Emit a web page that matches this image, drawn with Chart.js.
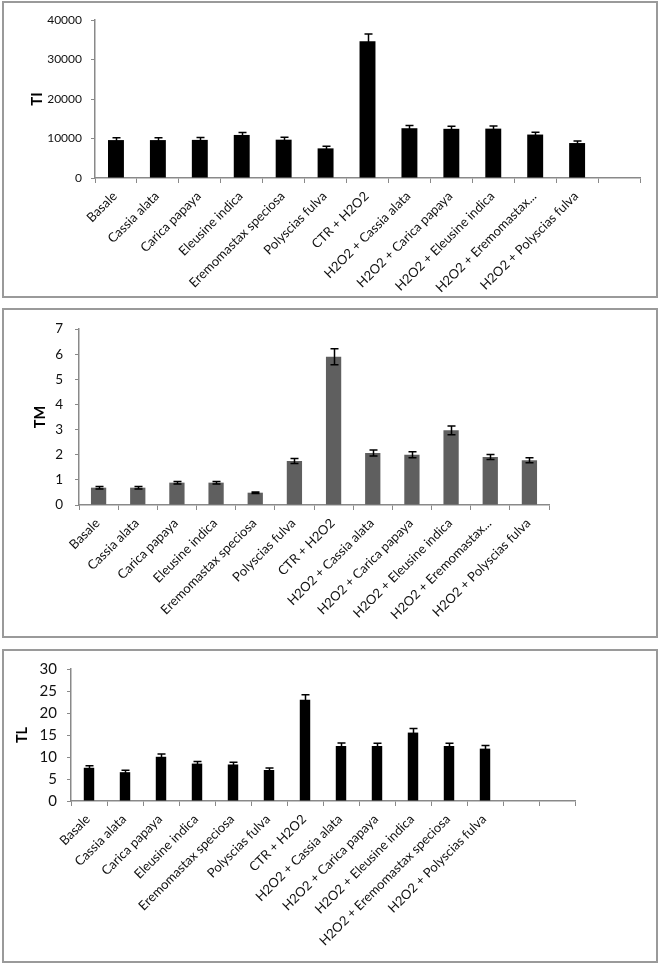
<!DOCTYPE html>
<html>
<head>
<meta charset="utf-8">
<script src="https://cdn.jsdelivr.net/npm/chart.js@4.4.1/dist/chart.umd.min.js"></script>
<style>
  html, body { margin: 0; padding: 0; background: #fff; }
  body { width: 659px; height: 965px; position: relative; overflow: hidden; }
  canvas { position: absolute; }
  .frame { position: absolute; box-sizing: border-box; border: 2px solid #9a9a9a; pointer-events: none; }
</style>
</head>
<body>
<div class="frame" style="left:2px;top:1px;width:656px;height:297px"></div>
<div class="frame" style="left:2px;top:308px;width:656px;height:330px"></div>
<div class="frame" style="left:2px;top:649px;width:656px;height:314px"></div>
<canvas id="tiChart" width="655" height="296" style="left:3px;top:2px"></canvas>
<canvas id="tmChart" width="655" height="328" style="left:3px;top:309px"></canvas>
<canvas id="tlChart" width="655" height="312" style="left:3px;top:650px"></canvas>
<script>
const categories = [
  'Basale', 'Cassia alata', 'Carica papaya', 'Eleusine indica', 'Eremomastax speciosa',
  'Polyscias fulva', 'CTR + H2O2', 'H2O2 + Cassia alata', 'H2O2 + Carica papaya',
  'H2O2 + Eleusine indica', 'H2O2 + Eremomastax speciosa', 'H2O2 + Polyscias fulva'
];
// the first two panels cut the long label short
const shortLabels = categories.map(c => c === 'H2O2 + Eremomastax speciosa' ? 'H2O2 + Eremomastax...' : c);

const tiValues = [9600, 9600, 9650, 10900, 9700, 7500, 34600, 12600, 12450, 12500, 11000, 8850];
const tiErrors = [600, 600, 600, 600, 600, 540, 1850, 680, 680, 680, 600, 520];
const tiTicks = [0, 10000, 20000, 30000, 40000];

const tmValues = [0.69, 0.69, 0.89, 0.89, 0.49, 1.75, 5.9, 2.07, 2.0, 2.97, 1.91, 1.78];
const tmErrors = [0.05, 0.05, 0.05, 0.05, 0.03, 0.1, 0.32, 0.12, 0.12, 0.17, 0.1, 0.1];
const tmTicks = [0, 1, 2, 3, 4, 5, 6, 7];

const tlValues = [7.55, 6.55, 10.05, 8.5, 8.3, 7.05, 23.0, 12.5, 12.5, 15.55, 12.5, 11.9];
const tlErrors = [0.45, 0.45, 0.65, 0.5, 0.5, 0.45, 1.15, 0.7, 0.65, 0.95, 0.65, 0.7];
const tlTicks = [0, 5, 10, 15, 20, 25, 30];

const axisGray = '#898989';

const errorBars = {
  id: 'errorBars',
  afterDatasetsDraw(chart, args, opts) {
    const ctx = chart.ctx;
    const y = chart.scales.y;
    const vals = chart.data.datasets[0].data;
    ctx.save();
    ctx.strokeStyle = opts.color || '#000';
    ctx.lineWidth = 1.5;
    chart.getDatasetMeta(0).data.forEach((bar, i) => {
      const v = vals[i], e = opts.errors[i];
      if (v == null || e == null) return;
      const x = Math.round(bar.x) + 0.5;
      const top = y.getPixelForValue(v + e);
      const bot = y.getPixelForValue(v - e);
      ctx.beginPath();
      ctx.moveTo(x, top); ctx.lineTo(x, bot);
      ctx.moveTo(x - opts.cap, top); ctx.lineTo(x + opts.cap, top);
      ctx.moveTo(x - opts.cap, bot); ctx.lineTo(x + opts.cap, bot);
      ctx.stroke();
    });
    ctx.restore();
  }
};

// category names at 45 degrees, right end just under each tick
const slantLabels = {
  id: 'slantLabels',
  afterDraw(chart, args, opts) {
    const xs = chart.scales.x;
    const ctx = chart.ctx;
    ctx.save();
    ctx.font = opts.size + 'px Lato';
    ctx.fillStyle = '#111';
    ctx.textAlign = 'right';
    ctx.textBaseline = 'middle';
    chart.data.labels.forEach((lab, i) => {
      if (!lab) return;
      ctx.save();
      ctx.translate(xs.getPixelForTick(i) + opts.dx, xs.top + opts.dy);
      ctx.rotate(-Math.PI / 4);
      ctx.fillText(lab, 0, 0);
      ctx.restore();
    });
    ctx.restore();
  }
};

function makeChart(id, cfg) {
  const n = cfg.slots;
  const labels = cfg.labels.concat(Array(n - cfg.labels.length).fill(''));
  const data = cfg.values.concat(Array(n - cfg.values.length).fill(null));
  return new Chart(document.getElementById(id).getContext('2d'), {
    type: 'bar',
    data: {
      labels: labels,
      datasets: [{
        data: data,
        backgroundColor: cfg.barColor,
        borderWidth: 0,
        barPercentage: cfg.barPct,
        categoryPercentage: 1
      }]
    },
    options: {
      responsive: false,
      maintainAspectRatio: false,
      animation: false,
      layout: { padding: { top: cfg.padTop, right: cfg.padRight, left: 0, bottom: 0 } },
      plugins: {
        legend: { display: false },
        tooltip: { enabled: false },
        errorBars: { errors: cfg.errors, color: '#000', cap: 4 },
        slantLabels: { size: 13, dx: -1, dy: 16 }
      },
      scales: {
        x: {
          offset: true,
          grid: { display: true, offset: true, drawOnChartArea: false, drawTicks: true, tickLength: 5, color: axisGray },
          border: { color: axisGray, width: 1.5 },
          ticks: { display: false },
          afterFit: s => { s.height = cfg.xHeight; }
        },
        y: {
          min: cfg.ticks[0],
          max: cfg.ticks[cfg.ticks.length - 1],
          grid: { drawOnChartArea: false, drawTicks: true, tickLength: 4, color: axisGray },
          border: { color: axisGray, width: 1.5 },
          ticks: {
            stepSize: cfg.ticks[1] - cfg.ticks[0], padding: cfg.tickPad,
            color: '#111', font: { family: 'Lato', size: cfg.tickSize },
            callback: v => String(v)
          },
          title: {
            display: true, text: cfg.title, color: '#000',
            font: { family: 'Lato', size: cfg.titleSize, weight: 'bold' },
            padding: { top: cfg.titlePad, bottom: 0 }
          },
          afterFit: s => { s.width = cfg.yWidth; }
        }
      }
    },
    plugins: [errorBars, slantLabels]
  });
}

makeChart('tiChart', {
  labels: shortLabels, values: tiValues, errors: tiErrors, ticks: tiTicks, slots: 13,
  barColor: '#000', barPct: 0.38, title: 'TI', titleSize: 15, titlePad: 25,
  tickSize: 12, tickPad: 9, yWidth: 92, xHeight: 120, padTop: 18, padRight: 18
});

makeChart('tmChart', {
  labels: shortLabels, values: tmValues, errors: tmErrors, ticks: tmTicks, slots: 12,
  barColor: '#5f5f5f', barPct: 0.39, title: 'TM', titleSize: 14.5, titlePad: 29,
  tickSize: 13.5, tickPad: 12, yWidth: 76, xHeight: 132, padTop: 20, padRight: 109
});

makeChart('tlChart', {
  labels: categories, values: tlValues, errors: tlErrors, ticks: tlTicks, slots: 14,
  barColor: '#000', barPct: 0.29, title: 'TL', titleSize: 14.5, titlePad: 11,
  tickSize: 15, tickPad: 10, yWidth: 68, xHeight: 161, padTop: 11, padRight: 83
});
</script>
</body>
</html>
